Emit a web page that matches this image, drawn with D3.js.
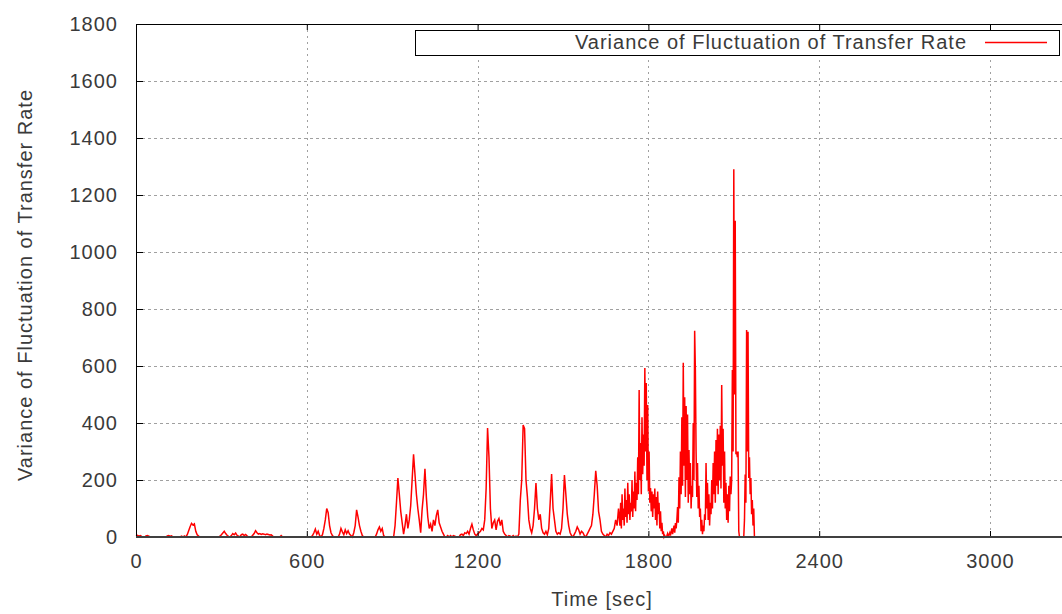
<!DOCTYPE html>
<html>
<head>
<meta charset="utf-8">
<script src="https://cdn.jsdelivr.net/npm/d3@7"></script>
<style>
  html, body { margin: 0; padding: 0; background: #fff; }
  svg { display: block; }
  text { font-family: "Liberation Sans", Arial, sans-serif; fill: #3a3a3a; letter-spacing: 1px; }
</style>
</head>
<body>
<svg id="chart" width="1062" height="614"></svg>
<script>
// ---- data ----
// 0 - 1695 s, one sample every 5 s
const coarseStep = 5;
const varianceEarly = [
  // 0-95
  4,6,3,5,2,0,0,4,5,3,0,0,0,0,0,0,0,0,0,0,
  // 100-195
  0,0,4,5,3,4,0,0,0,0,0,0,3,0,4,0,8,22,36,48,
  // 200-295
  42,46,20,8,3,0,0,0,0,0,0,0,0,0,0,0,0,0,0,3,
  // 300-395
  8,14,20,12,6,2,0,5,12,8,14,6,3,0,8,10,5,9,4,0,
  // 400-495
  0,0,6,12,22,15,10,12,9,11,10,8,10,9,7,8,3,0,0,0,
  // 500-595
  0,0,5,0,0,0,0,0,0,0,0,0,0,0,0,0,0,0,0,0,
  // 600-695
  0,0,0,0,5,15,28,10,20,5,0,8,30,60,100,85,40,15,5,0,
  // 700-795
  0,0,0,10,30,18,8,25,12,22,10,5,0,15,40,95,70,40,20,5,
  // 800-895
  0,0,0,0,0,0,0,0,0,10,25,35,20,30,5,0,0,0,0,0,
  // 900-995
  0,0,40,120,207,150,90,50,10,40,80,30,60,110,200,290,220,150,100,60,
  // 1000-1095
  15,95,150,239,140,70,30,45,20,60,40,75,95,50,35,20,10,0,0,5,
  // 1100-1195
  0,5,0,5,3,0,0,0,8,10,5,15,12,20,10,30,45,25,10,5,
  // 1200-1295
  10,15,20,30,25,60,170,382,280,100,30,50,60,25,55,65,40,60,20,10,
  // 1300-1395
  5,0,5,3,0,5,0,3,0,10,130,200,393,380,200,140,60,30,15,40,
  // 1400-1495
  100,189,100,60,80,30,15,10,20,8,30,120,221,100,60,20,10,15,10,30,
  // 1500-1595
  100,217,150,80,40,15,5,0,10,20,35,25,10,20,15,5,0,10,20,30,
  // 1600-1695
  40,80,150,232,180,90,60,20,10,5,0,10,5,15,10,20,30,60,40,100
];
// 1700 - 2175 s, one sample every 2.5 s (dense, oscillating part)
const denseStart = 1700;
const denseStep = 2.5;
const varianceLate = [
  // 1700-1797.5
  40,120,30,150,60,100,40,170,70,130, 50,190,80,150,60,120,90,200,70,160,
  100,230,90,190,130,280,150,516,200,330, 150,420,220,360,250,593,300,540,200,463,
  // 1800-1897.5
  160,300,120,172,90,160,70,150,100,170, 60,140,40,160,80,120,30,90,20,50,
  10,20,0,5,0,0,5,12,3,8, 15,5,20,30,10,25,40,15,49,30,
  // 1900-1997.5
  60,105,50,210,100,300,150,420,180,611, 250,490,140,460,200,430,120,305,150,260,
  100,180,140,400,200,724,586,300,140,260, 100,180,70,100,20,60,10,40,20,80,
  // 2000-2097.5
  60,260,100,190,60,150,40,120,80,200, 100,260,150,300,120,340,180,380,150,360,
  200,390,170,533,250,380,120,300,100,190, 60,150,50,180,90,212,150,200,586,300,
  // 2100-2175
  1290,500,1110,290,300,280,300,20,0,0, 0,0,0,0,0,60,219,120,726,300,
  720,207,280,150,207,80,130,40,100,0, 0
];

const seriesName = "Variance of Fluctuation of Transfer Rate";
const xTicks = [0, 600, 1200, 1800, 2400, 3000];
const yTicks = [0, 200, 400, 600, 800, 1000, 1200, 1400, 1600, 1800];
const xTitle = "Time [sec]";
const yTitle = "Variance of Fluctuation of Transfer Rate";

(function () {
const points = varianceEarly.map((v, i) => ({ t: i * coarseStep, v }))
  .concat(varianceLate.map((v, i) => ({ t: denseStart + i * denseStep, v })));

// ---- layout ----
const W = 1062, H = 614;
const mLeft = 136, mTop = 24, mBottom = 537;
const svg = d3.select("#chart");
svg.append("rect").attr("width", W).attr("height", H).attr("fill", "#fff");

const x = d3.scaleLinear().domain([0, 3600]).range([mLeft, mLeft + 854 * 1.2]);
const y = d3.scaleLinear().domain([0, 1800]).range([mBottom, mTop]);

// grid
const grid = svg.append("g");
grid.selectAll("line.hg").data(yTicks.filter(d => d > 0 && d < 1800)).join("line")
  .attr("x1", mLeft).attr("x2", W)
  .attr("y1", d => Math.round(y(d)) + 0.5).attr("y2", d => Math.round(y(d)) + 0.5)
  .attr("stroke", "#a0a0a0").attr("stroke-width", 1).attr("stroke-dasharray", "3,3");
grid.selectAll("line.vg").data(xTicks.filter(d => d > 0)).join("line")
  .attr("x1", d => Math.round(x(d)) + 0.5).attr("x2", d => Math.round(x(d)) + 0.5)
  .attr("y1", mTop).attr("y2", mBottom)
  .attr("stroke", "#a0a0a0").attr("stroke-width", 1).attr("stroke-dasharray", "2,4");

// data line
const line = d3.line().x(d => x(d.t)).y(d => y(d.v));
svg.append("path").datum(points)
  .attr("d", line).attr("fill", "none")
  .attr("stroke", "#ff0000").attr("stroke-width", 1.5).attr("stroke-linejoin", "miter");

// axes via d3
const fontFam = "Liberation Sans, Arial, sans-serif";
const xAxis = d3.axisBottom(x).tickValues(xTicks).tickSize(-6).tickPadding(17).tickFormat(d3.format("d"));
const gx = svg.append("g").attr("transform", `translate(0,${mBottom})`).call(xAxis);
gx.select(".domain").remove();
gx.selectAll(".tick line").attr("stroke", "#000");
gx.selectAll(".tick text").attr("font-size", 20).attr("font-family", fontFam).attr("fill", "#3a3a3a");

const xTop = d3.axisTop(x).tickValues(xTicks).tickSize(-6).tickFormat("");
const gxt = svg.append("g").attr("transform", `translate(0,${mTop})`).call(xTop);
gxt.select(".domain").remove();
gxt.selectAll(".tick line").attr("stroke", "#000");

const yAxis = d3.axisLeft(y).tickValues(yTicks).tickSize(-7).tickPadding(18).tickFormat(d3.format("d"));
const gy = svg.append("g").attr("transform", `translate(${mLeft},0)`).call(yAxis);
gy.select(".domain").remove();
gy.selectAll(".tick line").attr("stroke", "#000");
gy.selectAll(".tick text").attr("font-size", 20).attr("font-family", fontFam).attr("fill", "#3a3a3a");

// border
svg.append("line").attr("x1", mLeft).attr("x2", W).attr("y1", mTop + 0.5).attr("y2", mTop + 0.5).attr("stroke", "#000");
svg.append("line").attr("x1", mLeft + 0.5).attr("x2", mLeft + 0.5).attr("y1", mTop).attr("y2", mBottom).attr("stroke", "#000");
svg.append("line").attr("x1", mLeft).attr("x2", W).attr("y1", mBottom).attr("y2", mBottom).attr("stroke", "#404040").attr("stroke-width", 2);

// legend
const lg = svg.append("g");
lg.append("rect").attr("x", 415.5).attr("y", 30.5).attr("width", 644).attr("height", 25)
  .attr("fill", "#fff").attr("stroke", "#000");
lg.append("text").attr("x", 967).attr("y", 49).attr("text-anchor", "end").attr("font-size", 20).text(seriesName);
lg.append("line").attr("x1", 985).attr("x2", 1047).attr("y1", 42.5).attr("y2", 42.5).attr("stroke", "#ff0000").attr("stroke-width", 1.5);

// titles
svg.append("text").attr("x", 602).attr("y", 606).attr("text-anchor", "middle").attr("font-size", 20).text(xTitle);
svg.append("text").attr("transform", "translate(32,285) rotate(-90)").attr("text-anchor", "middle").attr("font-size", 20).text(yTitle);
})();
</script>
</body>
</html>
